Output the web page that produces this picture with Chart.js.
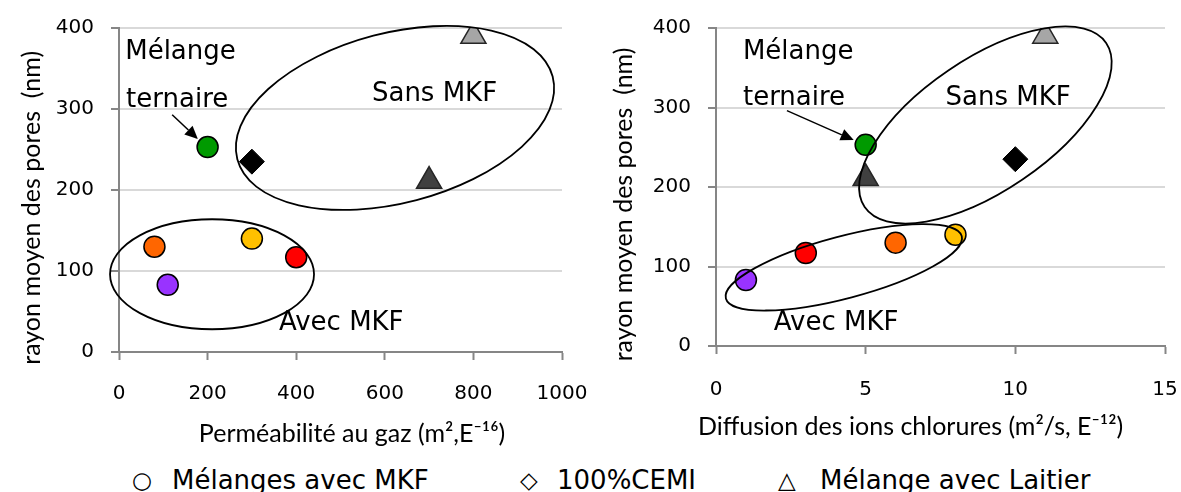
<!DOCTYPE html>
<html>
<head>
<meta charset="utf-8">
<script src="https://cdn.jsdelivr.net/npm/chart.js@4.4.1/dist/chart.umd.min.js"></script>
<style>
  html, body { margin: 0; padding: 0; background: #fff; }
  #wrap { position: relative; width: 1181px; height: 492px; overflow: hidden; }
  #left { position: absolute; left: 0; top: 0; }
  #right { position: absolute; left: 590px; top: 0; }
  .leg { position: absolute; top: 467px; font: 26px "DejaVu Sans"; line-height: 1; color: #000; white-space: nowrap; }
  .sym { font-size: 23px; top: 469px; }
</style>
</head>
<body>
<div id="wrap">
  <canvas id="left" width="590" height="460"></canvas>
  <canvas id="right" width="591" height="460"></canvas>
  <span class="leg sym" style="left:132px">○</span>
  <span class="leg" style="left:172px">Mélanges avec MKF</span>
  <span class="leg sym" style="left:520px">◇</span>
  <span class="leg" style="left:557px">100%CEMI</span>
  <span class="leg sym" style="left:778px">△</span>
  <span class="leg" style="left:820px">Mélange avec Laitier</span>
</div>
<script>
'use strict';

// Mélanges avec MKF (one colour per mix, green = mélange ternaire)
const mkfMixes = ['vert', 'orange', 'violet', 'jaune', 'rouge'];
const mkfPermeability = [200, 80, 110, 300, 400];
const mkfDiffusion = [5, 6, 1, 8, 3];
const mkfPoreRadius = [253, 130, 83, 140, 117];
const mkfColors = ['#009a00', '#ff6600', '#9933ff', '#ffc000', '#ff0000'];

// 100%CEMI
const cemPermeability = [300];
const cemDiffusion = [10];
const cemPoreRadius = [235];

// Mélange avec Laitier
const slagPermeability = [800, 700];
const slagDiffusion = [11, 5];
const slagPoreRadius = [390, 211];
const slagColors = ['#a6a6a6', '#404040'];

const yTitle = 'rayon moyen des pores  (nm)';
const FONT = 'DejaVu Sans';
const TITLE_FONT = '25px Lato';

function pts(xs, ys){
  return xs.map(function(v, i){ return {x: v, y: ys[i]}; });
}

// ellipses, arrows, labels and axis titles, placed in data units
const notesPlugin = {
  id: 'notes',
  afterDatasetsDraw(chart, args, opts) {
    const ctx = chart.ctx;
    const xs = chart.scales.x, ys = chart.scales.y;
    ctx.save();
    ctx.strokeStyle = '#000';
    ctx.fillStyle = '#000';
    ctx.lineWidth = 1.8;
    opts.ellipses.forEach(function(e){
      ctx.beginPath();
      ctx.ellipse(xs.getPixelForValue(e.x), ys.getPixelForValue(e.y), e.rx, e.ry, e.rot * Math.PI / 180, 0, 2 * Math.PI);
      ctx.stroke();
    });
    opts.arrows.forEach(function(a){
      var x0 = xs.getPixelForValue(a.x0), y0 = ys.getPixelForValue(a.y0);
      var x1 = xs.getPixelForValue(a.x1), y1 = ys.getPixelForValue(a.y1);
      var ang = Math.atan2(y1 - y0, x1 - x0);
      var hl = 13, hw = 6;
      ctx.lineWidth = 1.5;
      ctx.beginPath();
      ctx.moveTo(x0, y0);
      ctx.lineTo(x1 - hl * Math.cos(ang), y1 - hl * Math.sin(ang));
      ctx.stroke();
      ctx.beginPath();
      ctx.moveTo(x1, y1);
      ctx.lineTo(x1 - hl * Math.cos(ang) + hw * Math.sin(ang), y1 - hl * Math.sin(ang) - hw * Math.cos(ang));
      ctx.lineTo(x1 - hl * Math.cos(ang) - hw * Math.sin(ang), y1 - hl * Math.sin(ang) + hw * Math.cos(ang));
      ctx.closePath();
      ctx.fill();
    });
    ctx.font = '26px "' + FONT + '"';
    ctx.textAlign = 'left';
    ctx.textBaseline = 'middle';
    opts.texts.forEach(function(t){
      ctx.fillText(t.text, xs.getPixelForValue(t.x), ys.getPixelForValue(t.y));
    });

    // axis titles
    ctx.font = TITLE_FONT;
    ctx.textAlign = 'center';
    ctx.textBaseline = 'alphabetic';
    ctx.fillText(opts.xTitle.text, xs.getPixelForValue(opts.xTitle.at), opts.xTitle.baseline);
    ctx.translate(opts.yTitle.baseline, ys.getPixelForValue(opts.yTitle.at));
    ctx.rotate(-Math.PI / 2);
    ctx.fillText(opts.yTitle.text, 0, 0);
    ctx.restore();
  }
};

function makeChart(id, xData, xMax, xStep, yWidth, xHeight, padRight, tickPad, notes){
  var tickFont = {family: FONT, size: 20};
  return new Chart(document.getElementById(id), {
    type: 'scatter',
    data: {
      datasets: [
        {
          label: 'Mélanges avec MKF',
          data: pts(xData.mkf, mkfPoreRadius),
          pointStyle: 'circle',
          pointRadius: 10.5,
          pointHoverRadius: 10.5,
          backgroundColor: mkfColors,
          borderColor: '#000',
          borderWidth: 1.5
        },
        {
          label: '100%CEMI',
          data: pts(xData.cem, cemPoreRadius),
          pointStyle: 'rectRot',
          pointRadius: 12.5,
          pointHoverRadius: 12.5,
          backgroundColor: '#000',
          borderColor: '#000',
          borderWidth: 1
        },
        {
          label: 'Mélange avec Laitier',
          data: pts(xData.slag, slagPoreRadius),
          pointStyle: 'triangle',
          pointRadius: 14.5,
          pointHoverRadius: 14.5,
          backgroundColor: slagColors,
          borderColor: '#262626',
          borderWidth: 1.5
        }
      ]
    },
    options: {
      responsive: false,
      animation: false,
      layout: {padding: {left: 0, top: 28, right: padRight, bottom: 0}},
      plugins: {
        legend: {display: false},
        tooltip: {enabled: false},
        notes: notes
      },
      scales: {
        x: {
          type: 'linear',
          min: 0,
          max: xMax,
          ticks: {stepSize: xStep, autoSkip: false, maxRotation: 0, color: '#000', font: tickFont, padding: tickPad,
                  callback: function(v){ return String(v); }},
          grid: {drawOnChartArea: false, tickLength: 8, tickColor: '#868686', tickWidth: 2},
          border: {color: '#868686', width: 2},
          afterFit: function(s){ s.height = xHeight; s.paddingLeft = 0; s.paddingRight = 0; }
        },
        y: {
          min: 0,
          max: 400,
          ticks: {stepSize: 100, color: '#000', font: tickFont, padding: 17},
          grid: {color: '#d9d9d9', lineWidth: 2, tickLength: 8, tickColor: '#868686', tickWidth: 2},
          border: {color: '#868686', width: 2},
          afterFit: function(s){ s.width = yWidth; s.paddingTop = 0; s.paddingBottom = 0; }
        }
      }
    },
    plugins: [notesPlugin]
  });
}

makeChart('left',
  {mkf: mkfPermeability, cem: cemPermeability, slag: slagPermeability},
  1000, 200, 119, 108, 28, 22,
  {
    ellipses: [
      {x: 623, y: 289, rx: 163, ry: 85, rot: -14.7},
      {x: 210, y: 96, rx: 102, ry: 55, rot: 0}
    ],
    arrows: [{x0: 120, y0: 293, x1: 178, y1: 263}],
    texts: [
      {text: 'Mélange', x: 14, y: 370},
      {text: 'ternaire', x: 16, y: 311},
      {text: 'Sans MKF', x: 571, y: 318},
      {text: 'Avec MKF', x: 361, y: 36}
    ],
    xTitle: {text: 'Perméabilité au gaz (m²,E⁻¹⁶)', at: 526, baseline: 442},
    yTitle: {text: yTitle, at: 178, baseline: 40}
  });

makeChart('right',
  {mkf: mkfDiffusion, cem: cemDiffusion, slag: slagDiffusion},
  15, 5, 126, 114, 15, 24,
  {
    ellipses: [
      {x: 9.0, y: 278, rx: 146, ry: 66, rot: -34.2},
      {x: 4.27, y: 99, rx: 122, ry: 31, rot: -14.8}
    ],
    arrows: [{x0: 2.37, y0: 296, x1: 4.6, y1: 259}],
    texts: [
      {text: 'Mélange', x: 0.9, y: 370},
      {text: 'ternaire', x: 0.9, y: 312},
      {text: 'Sans MKF', x: 7.67, y: 312},
      {text: 'Avec MKF', x: 1.93, y: 29}
    ],
    xTitle: {text: 'Diffusion des ions chlorures (m²/s, E⁻¹²)', at: 6.5, baseline: 435},
    yTitle: {text: yTitle, at: 178, baseline: 42}
  });
</script>
</body>
</html>
